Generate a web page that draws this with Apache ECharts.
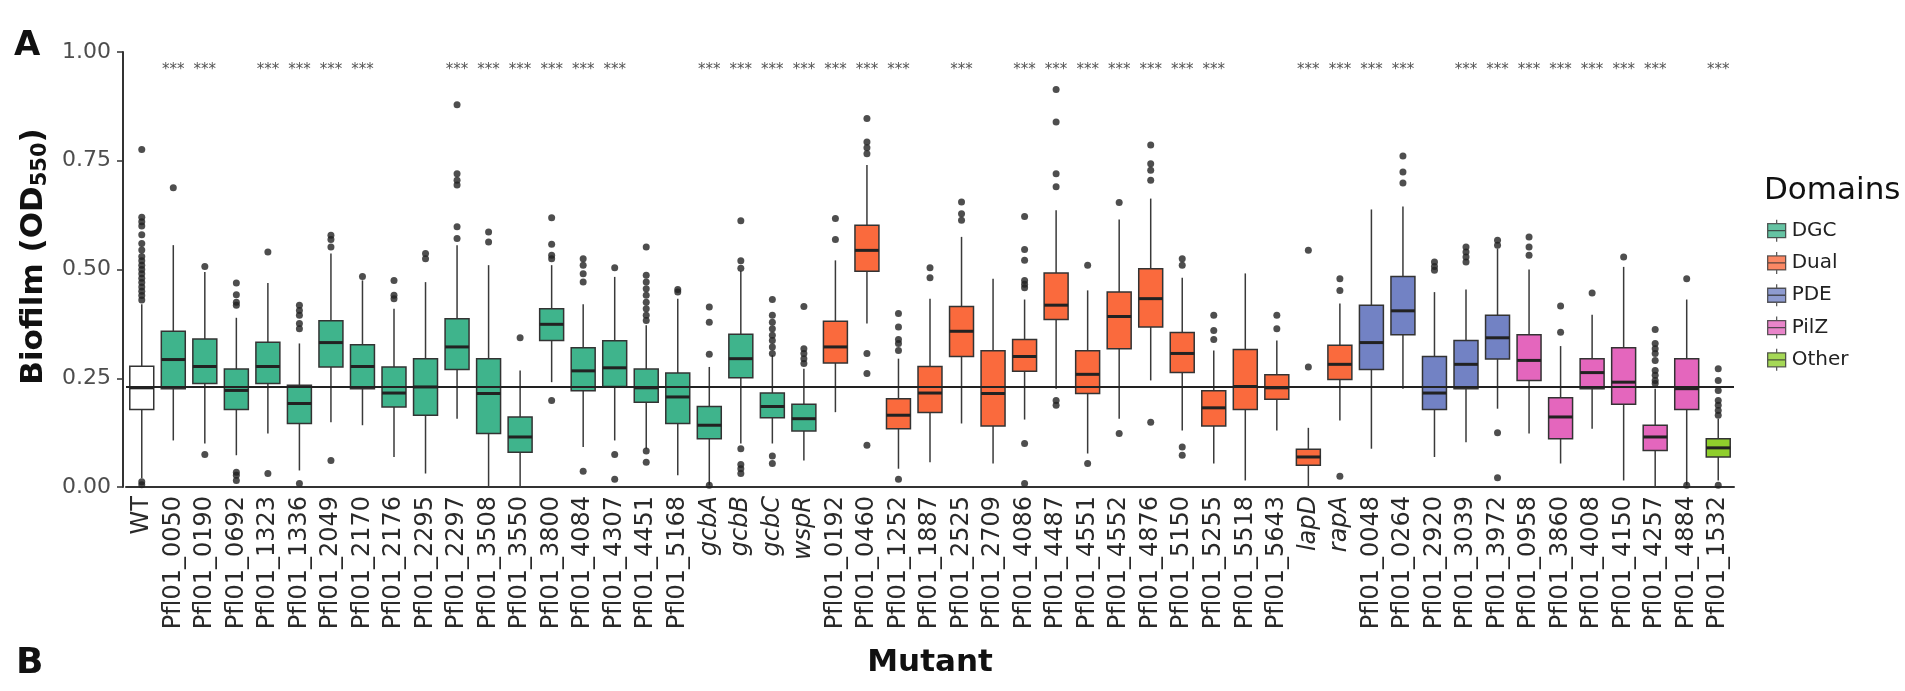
<!DOCTYPE html>
<html>
<head>
<meta charset="utf-8">
<script src="https://cdn.jsdelivr.net/npm/echarts@6/dist/echarts.min.js"></script>
<style>
  html, body { margin: 0; padding: 0; background: #fff; }
  #chart { width: 1905px; height: 691px; }
</style>
</head>
<body>
<div id="chart"></div>
<script>
const categories = [
  "WT", "Pfl01_0050", "Pfl01_0190", "Pfl01_0692", "Pfl01_1323", "Pfl01_1336", "Pfl01_2049",
  "Pfl01_2170", "Pfl01_2176", "Pfl01_2295", "Pfl01_2297", "Pfl01_3508", "Pfl01_3550",
  "Pfl01_3800", "Pfl01_4084", "Pfl01_4307", "Pfl01_4451", "Pfl01_5168", "gcbA", "gcbB",
  "gcbC", "wspR", "Pfl01_0192", "Pfl01_0460", "Pfl01_1252", "Pfl01_1887", "Pfl01_2525",
  "Pfl01_2709", "Pfl01_4086", "Pfl01_4487", "Pfl01_4551", "Pfl01_4552", "Pfl01_4876",
  "Pfl01_5150", "Pfl01_5255", "Pfl01_5518", "Pfl01_5643", "lapD", "rapA", "Pfl01_0048",
  "Pfl01_0264", "Pfl01_2920", "Pfl01_3039", "Pfl01_3972", "Pfl01_0958", "Pfl01_3860",
  "Pfl01_4008", "Pfl01_4150", "Pfl01_4257", "Pfl01_4884", "Pfl01_1532"
];

const domains = [
  "WT",
  "DGC", "DGC", "DGC", "DGC", "DGC", "DGC", "DGC", "DGC", "DGC", "DGC", "DGC",
  "DGC", "DGC", "DGC", "DGC", "DGC", "DGC", "DGC", "DGC", "DGC", "DGC",
  "Dual", "Dual", "Dual", "Dual", "Dual", "Dual", "Dual", "Dual", "Dual", "Dual",
  "Dual", "Dual", "Dual", "Dual", "Dual", "Dual", "Dual",
  "PDE", "PDE", "PDE", "PDE", "PDE",
  "PilZ", "PilZ", "PilZ", "PilZ", "PilZ", "PilZ",
  "Other"
];

const whiskerLow = [
  0.02, 0.107, 0.10, 0.073, 0.123, 0.038, 0.149, 0.142, 0.069, 0.031, 0.157, 0, 0,
  0.241, 0.092, 0.107, 0.088, 0.027, 0.004, 0.10, 0.10, 0.061,
  0.172, 0.376, 0.042, 0.057, 0.146, 0.054, 0.155, 0.226, 0.077, 0.157, 0.245,
  0.13, 0.054, 0.015, 0.13, 0, 0.153,
  0.088, 0.226, 0.069, 0.103, 0.18,
  0.123, 0.054, 0.134, 0.015, 0, 0.004,
  0.015
];
const q1 = [
  0.178, 0.226, 0.238, 0.178, 0.238, 0.146, 0.276, 0.226, 0.184, 0.165, 0.27, 0.123, 0.08,
  0.337, 0.221, 0.231, 0.195, 0.146, 0.111, 0.251, 0.159, 0.129,
  0.285, 0.496, 0.134, 0.171, 0.30, 0.14, 0.266, 0.385, 0.215, 0.318, 0.368,
  0.263, 0.14, 0.178, 0.202, 0.05, 0.247,
  0.27, 0.35, 0.178, 0.226, 0.294,
  0.245, 0.111, 0.226, 0.19, 0.084, 0.178,
  0.069
];
const median = [
  0.228, 0.293, 0.277, 0.222, 0.277, 0.192, 0.332, 0.277, 0.216, 0.23, 0.322, 0.215, 0.115,
  0.374, 0.267, 0.274, 0.228, 0.207, 0.142, 0.295, 0.185, 0.157,
  0.322, 0.544, 0.165, 0.216, 0.358, 0.215, 0.30, 0.418, 0.259, 0.392, 0.433,
  0.307, 0.182, 0.231, 0.228, 0.069, 0.282,
  0.332, 0.405, 0.216, 0.282, 0.343,
  0.291, 0.161, 0.263, 0.241, 0.115, 0.226,
  0.09
];
const q3 = [
  0.2775, 0.358, 0.34, 0.271, 0.333, 0.234, 0.382, 0.327, 0.276, 0.295, 0.387, 0.295, 0.161,
  0.41, 0.32, 0.336, 0.271, 0.262, 0.185, 0.351, 0.216, 0.19,
  0.381, 0.602, 0.203, 0.277, 0.415, 0.313, 0.339, 0.492, 0.313, 0.448, 0.502,
  0.355, 0.221, 0.316, 0.258, 0.087, 0.326,
  0.418, 0.484, 0.30, 0.337, 0.395,
  0.35, 0.205, 0.295, 0.32, 0.142, 0.295,
  0.111
];
const whiskerHigh = [
  0.42, 0.556, 0.494, 0.389, 0.469, 0.33, 0.537, 0.475, 0.41, 0.471, 0.556, 0.51, 0.268,
  0.51, 0.42, 0.483, 0.372, 0.433, 0.276, 0.497, 0.303, 0.272,
  0.521, 0.74, 0.295, 0.433, 0.575, 0.479, 0.431, 0.636, 0.452, 0.615, 0.663,
  0.481, 0.314, 0.491, 0.337, 0.136, 0.422,
  0.638, 0.645, 0.448, 0.454, 0.548,
  0.50, 0.324, 0.396, 0.506, 0.226, 0.431,
  0.157
];

const outlierValues = [
  [0.43, 0.44, 0.45, 0.46, 0.47, 0.48, 0.49, 0.50, 0.51, 0.52, 0.53, 0.545, 0.56, 0.58, 0.60, 0.61, 0.62, 0.776, 0.012, 0.005],
  [0.688],
  [0.507, 0.075],
  [0.469, 0.442, 0.425, 0.418, 0.034, 0.027, 0.015],
  [0.54, 0.031],
  [0.418, 0.406, 0.395, 0.376, 0.364, 0.008],
  [0.579, 0.569, 0.552, 0.061],
  [0.484],
  [0.475, 0.441, 0.433],
  [0.537, 0.525],
  [0.879, 0.72, 0.705, 0.694, 0.598, 0.571],
  [0.586, 0.563],
  [0.343],
  [0.619, 0.558, 0.533, 0.525, 0.199],
  [0.525, 0.51, 0.49, 0.471, 0.036],
  [0.504, 0.075, 0.018],
  [0.552, 0.487, 0.471, 0.456, 0.441, 0.425, 0.41, 0.395, 0.383, 0.083, 0.057],
  [0.454, 0.448],
  [0.414, 0.379, 0.305, 0.004],
  [0.612, 0.52, 0.503, 0.088, 0.052, 0.042, 0.031],
  [0.431, 0.395, 0.379, 0.364, 0.349, 0.337, 0.322, 0.307, 0.071, 0.054],
  [0.415, 0.318, 0.307, 0.295, 0.284],
  [0.617, 0.569],
  [0.847, 0.793, 0.78, 0.766, 0.307, 0.261, 0.096],
  [0.399, 0.368, 0.339, 0.33, 0.314, 0.018],
  [0.504, 0.481],
  [0.655, 0.628, 0.613],
  [],
  [0.622, 0.546, 0.521, 0.475, 0.466, 0.458, 0.10, 0.008],
  [0.914, 0.839, 0.72, 0.69, 0.199, 0.188],
  [0.51, 0.054],
  [0.654, 0.123],
  [0.786, 0.743, 0.728, 0.705, 0.149],
  [0.525, 0.51, 0.092, 0.073],
  [0.395, 0.36, 0.339],
  [],
  [0.395, 0.364],
  [0.544, 0.276],
  [0.479, 0.452, 0.025],
  [],
  [0.761, 0.724, 0.699],
  [0.517, 0.507, 0.498],
  [0.552, 0.54, 0.529, 0.517],
  [0.567, 0.556, 0.125, 0.021],
  [0.575, 0.552, 0.533],
  [0.416, 0.356],
  [0.446],
  [0.529],
  [0.362, 0.33, 0.318, 0.307, 0.291, 0.268, 0.257, 0.245, 0.238],
  [0.479, 0.004],
  [0.272, 0.245, 0.222, 0.199, 0.188, 0.176, 0.165, 0.004]
];

// mutants marked *** above the boxes
const significant = [
  "Pfl01_0050", "Pfl01_0190", "Pfl01_1323", "Pfl01_1336", "Pfl01_2049", "Pfl01_2170",
  "Pfl01_2297", "Pfl01_3508", "Pfl01_3550", "Pfl01_3800", "Pfl01_4084", "Pfl01_4307",
  "gcbA", "gcbB", "gcbC", "wspR", "Pfl01_0192", "Pfl01_0460", "Pfl01_1252", "Pfl01_2525",
  "Pfl01_4086", "Pfl01_4487", "Pfl01_4551", "Pfl01_4552", "Pfl01_4876", "Pfl01_5150",
  "Pfl01_5255", "lapD", "rapA", "Pfl01_0048", "Pfl01_0264", "Pfl01_3039", "Pfl01_3972",
  "Pfl01_0958", "Pfl01_3860", "Pfl01_4008", "Pfl01_4150", "Pfl01_4257", "Pfl01_1532"
];
const starLevel = 0.958;

const domainNames = ["DGC", "Dual", "PDE", "PilZ", "Other"];
const domainColors = {
  WT: "#ffffff",
  DGC: "#3fb48c",
  Dual: "#fa6a3d",
  PDE: "#7282c4",
  PilZ: "#e466bd",
  Other: "#8fce2c"
};

const font = "DejaVu Sans";

const boxData = categories.map((c, i) => [i, whiskerLow[i], q1[i], median[i], q3[i], whiskerHigh[i]]);
const outlierData = [];
outlierValues.forEach((vals, i) => {
  vals.forEach((v) => outlierData.push([i, v]));
});
const starData = significant.map((name) => [categories.indexOf(name), starLevel]);

function renderBox(params, api) {
  const i = api.value(0);
  const x = api.coord([i, 0])[0];
  const w = api.size([1, 0])[0] * 0.76;
  const yLo = api.coord([i, api.value(1)])[1];
  const yQ1 = api.coord([i, api.value(2)])[1];
  const yMed = api.coord([i, api.value(3)])[1];
  const yQ3 = api.coord([i, api.value(4)])[1];
  const yHi = api.coord([i, api.value(5)])[1];
  const fill = domainColors[domains[i]];
  return {
    type: "group",
    children: [
      { type: "line", shape: { x1: x, y1: yLo, x2: x, y2: yQ1 }, style: { stroke: "#3a3a3a", lineWidth: 1.5 } },
      { type: "line", shape: { x1: x, y1: yQ3, x2: x, y2: yHi }, style: { stroke: "#3a3a3a", lineWidth: 1.5 } },
      { type: "rect", shape: { x: x - w / 2, y: yQ3, width: w, height: yQ1 - yQ3 }, style: { fill: fill, stroke: "#333", lineWidth: 1.5 } },
      { type: "line", shape: { x1: x - w / 2, y1: yMed, x2: x + w / 2, y2: yMed }, style: { stroke: "#222", lineWidth: 3 } }
    ]
  };
}

function renderStars(params, api) {
  const p = api.coord([api.value(0), api.value(1)]);
  return {
    type: "text",
    x: p[0],
    y: p[1],
    style: { text: "***", fill: "#555", font: "15px " + font, align: "center", verticalAlign: "middle" }
  };
}

const legendIcon = "path://M2,4H20V18H2Z M2,11H20 M11,0V4 M11,18V22";

const chart = echarts.init(document.getElementById("chart"));
chart.setOption({
  animation: false,
  backgroundColor: "#fff",
  title: [
    { text: "A", left: 9, top: 24, textStyle: { fontFamily: font, fontWeight: "bold", fontSize: 34, color: "#111" } },
    { text: "B", left: 11, top: 641, textStyle: { fontFamily: font, fontWeight: "bold", fontSize: 36, color: "#111" } },
    { text: "Domains", left: 1759, top: 170, textStyle: { fontFamily: font, fontWeight: "normal", fontSize: 31, color: "#111" } }
  ],
  legend: {
    orient: "vertical",
    left: 1762,
    top: 214,
    itemWidth: 24,
    itemHeight: 22,
    itemGap: 9,
    selectedMode: false,
    textStyle: { fontFamily: font, fontSize: 20, color: "#222", padding: [0, 0, 0, -2] },
    data: domainNames.map((d) => ({
      name: d,
      icon: legendIcon,
      itemStyle: { color: domainColors[d], borderColor: "#333", borderWidth: 1.3 }
    }))
  },
  grid: { left: 126, top: 52, width: 1608, height: 435 },
  xAxis: {
    type: "category",
    data: categories,
    name: "Mutant",
    nameLocation: "middle",
    nameGap: 160,
    nameTextStyle: { fontFamily: font, fontWeight: "bold", fontSize: 31, color: "#111" },
    axisLine: { lineStyle: { color: "#333", width: 2 } },
    axisTick: { alignWithLabel: true, length: 6, lineStyle: { color: "#333", width: 1.5 } },
    axisLabel: {
      rotate: 90,
      interval: 0,
      margin: 9,
      fontFamily: font,
      fontSize: 24,
      color: "#2a2a2a",
      formatter: (v) => (v.indexOf("Pfl") === 0 || v === "WT" ? v : "{i|" + v + "}"),
      rich: { i: { fontFamily: font, fontSize: 24, fontStyle: "italic", color: "#2a2a2a" } }
    }
  },
  yAxis: {
    type: "value",
    min: 0,
    max: 1,
    interval: 0.25,
    offset: 3,
    name: "{a|Biofilm (OD}{s|550}{a|)}",
    nameLocation: "middle",
    nameRotate: 90,
    nameGap: 72,
    nameTextStyle: {
      padding: [0, 0, 0, 26],
      rich: {
        a: { fontFamily: font, fontWeight: "bold", fontSize: 31, color: "#111" },
        s: { fontFamily: font, fontWeight: "bold", fontSize: 21, color: "#111", verticalAlign: "bottom", padding: [14, 0, 0, 0] }
      }
    },
    splitLine: { show: false },
    axisLine: { show: true, lineStyle: { color: "#333", width: 2 } },
    axisTick: { show: true, length: 6, lineStyle: { color: "#333", width: 1.5 } },
    axisLabel: {
      margin: 12,
      fontFamily: font,
      fontSize: 22,
      color: "#4d4d4d",
      formatter: (v) => v.toFixed(2)
    }
  },
  series: [
    {
      name: "boxes",
      type: "custom",
      renderItem: renderBox,
      data: boxData,
      encode: { x: 0, y: [1, 2, 3, 4, 5] },
      z: 1,
      silent: true
    },
    {
      name: "outliers",
      type: "scatter",
      data: outlierData,
      symbolSize: 7,
      itemStyle: { color: "#222" },
      z: 3,
      silent: true,
      markLine: {
        silent: true,
        symbol: ["none", "none"],
        label: { show: false },
        lineStyle: { color: "#222", width: 2, type: "solid" },
        data: [{ yAxis: median[0] }]
      }
    },
    {
      name: "stars",
      type: "custom",
      renderItem: renderStars,
      data: starData,
      z: 4,
      silent: true
    },
    ...domainNames.map((d) => ({
      name: d,
      type: "scatter",
      data: [],
      itemStyle: { color: domainColors[d], borderColor: "#333", borderWidth: 1.3 }
    }))
  ]
});
</script>
</body>
</html>
